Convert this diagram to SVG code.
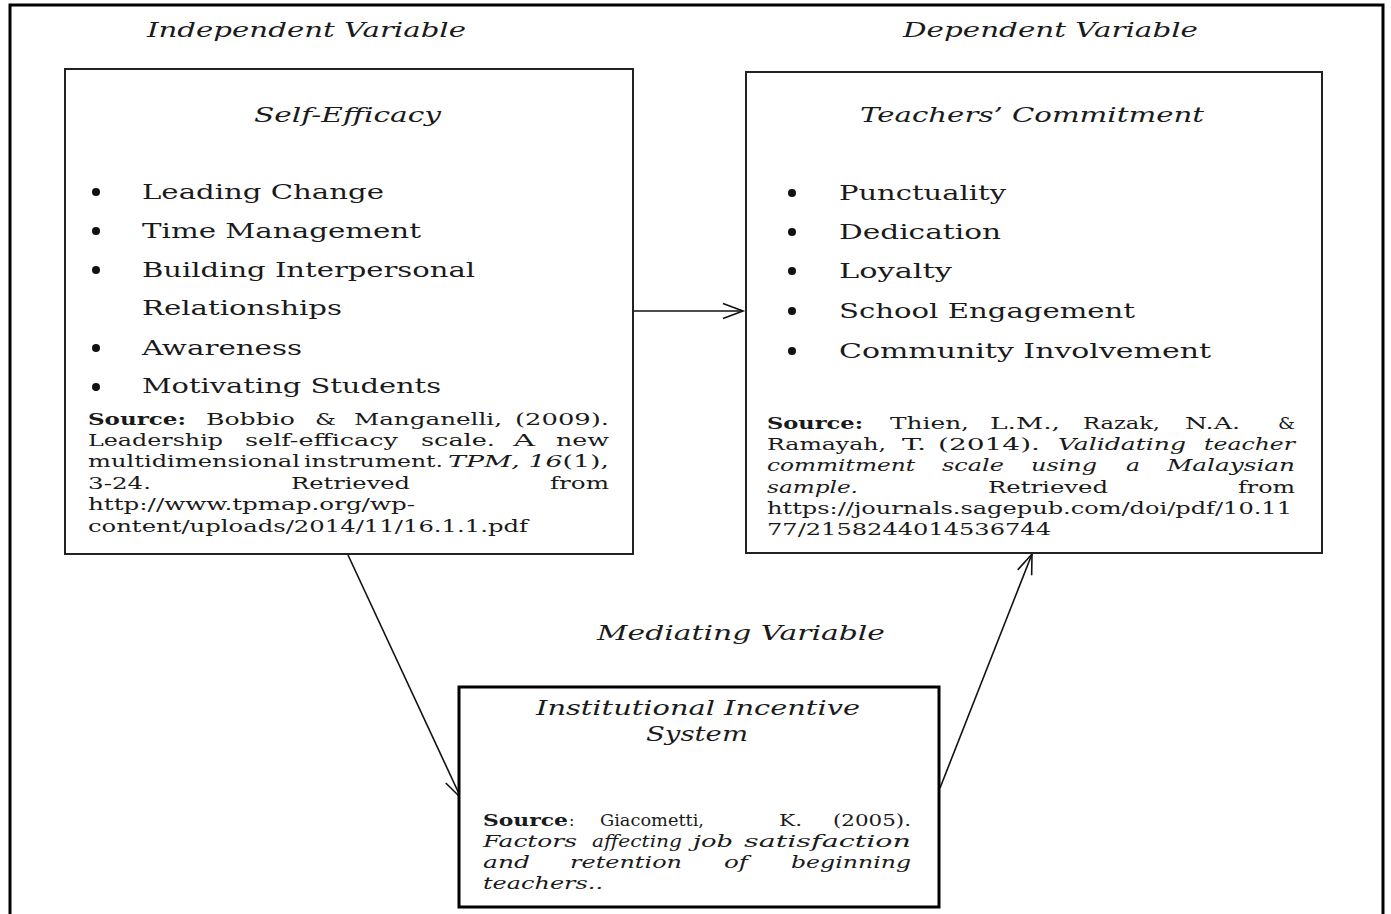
<svg xmlns="http://www.w3.org/2000/svg" width="1391" height="914" viewBox="0 0 1391 914">
<style>
text{font-family:"DejaVu Serif","Liberation Serif",serif;fill:#1a1a1a}
.hd{font-size:20px;font-style:italic}
.ti{font-size:20px;font-style:italic}
.bl{font-size:20px}
.sr{font-size:16px}
.b{font-weight:bold}
.i{font-style:italic}
.box{fill:#fff;stroke:#222;stroke-width:2}
.box3{fill:#fff;stroke:#000;stroke-width:3}
.conn{stroke:#111;stroke-width:1.6;fill:none}
</style>
<defs>
<marker id="ah" markerUnits="userSpaceOnUse" markerWidth="24" markerHeight="18" refX="21" refY="9" orient="auto">
<path d="M1,1.5 L21,9 L1,16.5" fill="none" stroke="#111" stroke-width="1.6"/>
</marker>
</defs>
<rect width="1391" height="914" fill="#fff"/>
<path d="M10,914 V5 H1383 V914" fill="none" stroke="#000" stroke-width="3"/>

<g id="labels">
<text class="hd" x="147" y="37" textLength="319" lengthAdjust="spacingAndGlyphs">Independent Variable</text>
<text class="hd" x="903" y="37" textLength="295" lengthAdjust="spacingAndGlyphs">Dependent Variable</text>
<text class="hd" x="597" y="640" textLength="288" lengthAdjust="spacingAndGlyphs">Mediating Variable</text>
</g>

<g id="connectors">
<line class="conn" x1="634" y1="311" x2="743" y2="311" marker-end="url(#ah)"/>
<line class="conn" x1="348" y1="555" x2="461" y2="798" marker-end="url(#ah)"/>
<line class="conn" x1="940" y1="788" x2="1032" y2="554" marker-end="url(#ah)"/>
</g>

<g id="node-self-efficacy">
<rect class="box" x="65" y="69" width="568" height="485"/>
<text class="ti" x="254" y="122" textLength="187" lengthAdjust="spacingAndGlyphs">Self-Efficacy</text>
<circle cx="96" cy="192" r="4" fill="#111"/>
<circle cx="96" cy="231" r="4" fill="#111"/>
<circle cx="96" cy="270" r="4" fill="#111"/>
<circle cx="96" cy="348" r="4" fill="#111"/>
<circle cx="96" cy="387" r="4" fill="#111"/>
<text class="bl" x="142" y="199" textLength="242" lengthAdjust="spacingAndGlyphs">Leading Change</text>
<text class="bl" x="142" y="238" textLength="279" lengthAdjust="spacingAndGlyphs">Time Management</text>
<text class="bl" x="142" y="277" textLength="333" lengthAdjust="spacingAndGlyphs">Building Interpersonal</text>
<text class="bl" x="142" y="315" textLength="200" lengthAdjust="spacingAndGlyphs">Relationships</text>
<text class="bl" x="142" y="355" textLength="160" lengthAdjust="spacingAndGlyphs">Awareness</text>
<text class="bl" x="142" y="393" textLength="299" lengthAdjust="spacingAndGlyphs">Motivating Students</text>
<text class="sr" y="425"><tspan class="b" x="88" textLength="98" lengthAdjust="spacingAndGlyphs">Source:</tspan><tspan x="206" textLength="89" lengthAdjust="spacingAndGlyphs">Bobbio</tspan><tspan x="315" textLength="21" lengthAdjust="spacingAndGlyphs">&amp;</tspan><tspan x="354" textLength="148" lengthAdjust="spacingAndGlyphs">Manganelli,</tspan><tspan x="515" textLength="94" lengthAdjust="spacingAndGlyphs">(2009).</tspan></text>
<text class="sr" y="446"><tspan x="88" textLength="135" lengthAdjust="spacingAndGlyphs">Leadership</tspan><tspan x="245" textLength="153" lengthAdjust="spacingAndGlyphs">self-efficacy</tspan><tspan x="421" textLength="74" lengthAdjust="spacingAndGlyphs">scale.</tspan><tspan x="513" textLength="22" lengthAdjust="spacingAndGlyphs">A</tspan><tspan x="556" textLength="53" lengthAdjust="spacingAndGlyphs">new</tspan></text>
<text class="sr" y="467"><tspan x="88" textLength="212" lengthAdjust="spacingAndGlyphs">multidimensional</tspan><tspan x="304" textLength="139" lengthAdjust="spacingAndGlyphs">instrument.</tspan></text>
<text class="sr" x="448" y="467" textLength="161" lengthAdjust="spacingAndGlyphs"><tspan class="i">TPM, 16</tspan>(1),</text>
<text class="sr" y="489"><tspan x="88" textLength="63" lengthAdjust="spacingAndGlyphs">3-24.</tspan><tspan x="291" textLength="119" lengthAdjust="spacingAndGlyphs">Retrieved</tspan><tspan x="550" textLength="59" lengthAdjust="spacingAndGlyphs">from</tspan></text>
<text class="sr" x="88" y="510" textLength="327" lengthAdjust="spacingAndGlyphs">http://www.tpmap.org/wp-</text>
<text class="sr" x="88" y="532" textLength="440" lengthAdjust="spacingAndGlyphs">content/uploads/2014/11/16.1.1.pdf</text>
</g>

<g id="node-teachers-commitment">
<rect class="box" x="746" y="72" width="576" height="481"/>
<text class="ti" x="860" y="122" textLength="344" lengthAdjust="spacingAndGlyphs">Teachers’ Commitment</text>
<circle cx="792" cy="193" r="4" fill="#111"/>
<circle cx="792" cy="232" r="4" fill="#111"/>
<circle cx="792" cy="271" r="4" fill="#111"/>
<circle cx="792" cy="311" r="4" fill="#111"/>
<circle cx="792" cy="351" r="4" fill="#111"/>
<text class="bl" x="839" y="200" textLength="167" lengthAdjust="spacingAndGlyphs">Punctuality</text>
<text class="bl" x="839" y="239" textLength="162" lengthAdjust="spacingAndGlyphs">Dedication</text>
<text class="bl" x="839" y="278" textLength="113" lengthAdjust="spacingAndGlyphs">Loyalty</text>
<text class="bl" x="839" y="318" textLength="296" lengthAdjust="spacingAndGlyphs">School Engagement</text>
<text class="bl" x="839" y="358" textLength="372" lengthAdjust="spacingAndGlyphs">Community Involvement</text>
<text class="sr" y="429"><tspan class="b" x="767" textLength="96" lengthAdjust="spacingAndGlyphs">Source:</tspan><tspan x="890" textLength="79" lengthAdjust="spacingAndGlyphs">Thien,</tspan><tspan x="990" textLength="70" lengthAdjust="spacingAndGlyphs">L.M.,</tspan><tspan x="1083" textLength="77" lengthAdjust="spacingAndGlyphs">Razak,</tspan><tspan x="1185" textLength="55" lengthAdjust="spacingAndGlyphs">N.A.</tspan><tspan x="1278" textLength="17" lengthAdjust="spacingAndGlyphs">&amp;</tspan></text>
<text class="sr" y="450"><tspan x="767" textLength="119" lengthAdjust="spacingAndGlyphs">Ramayah,</tspan><tspan x="902" textLength="24" lengthAdjust="spacingAndGlyphs">T.</tspan><tspan x="938" textLength="102" lengthAdjust="spacingAndGlyphs">(2014).</tspan><tspan class="i" x="1058" textLength="128" lengthAdjust="spacingAndGlyphs">Validating</tspan><tspan class="i" x="1204" textLength="91" lengthAdjust="spacingAndGlyphs">teacher</tspan></text>
<text class="sr i" y="471"><tspan x="767" textLength="148" lengthAdjust="spacingAndGlyphs">commitment</tspan><tspan x="942" textLength="62" lengthAdjust="spacingAndGlyphs">scale</tspan><tspan x="1031" textLength="66" lengthAdjust="spacingAndGlyphs">using</tspan><tspan x="1126" textLength="14" lengthAdjust="spacingAndGlyphs">a</tspan><tspan x="1167" textLength="128" lengthAdjust="spacingAndGlyphs">Malaysian</tspan></text>
<text class="sr" y="493"><tspan class="i" x="767" textLength="91" lengthAdjust="spacingAndGlyphs">sample.</tspan><tspan x="988" textLength="120" lengthAdjust="spacingAndGlyphs">Retrieved</tspan><tspan x="1238" textLength="57" lengthAdjust="spacingAndGlyphs">from</tspan></text>
<text class="sr" x="767" y="514" textLength="525" lengthAdjust="spacingAndGlyphs">https://journals.sagepub.com/doi/pdf/10.11</text>
<text class="sr" x="767" y="535" textLength="284" lengthAdjust="spacingAndGlyphs">77/2158244014536744</text>
</g>

<g id="node-institutional-incentive">
<rect class="box3" x="459" y="687" width="480" height="220"/>
<text class="ti" x="536" y="715" textLength="324" lengthAdjust="spacingAndGlyphs">Institutional Incentive</text>
<text class="ti" x="646" y="741" textLength="102" lengthAdjust="spacingAndGlyphs">System</text>
<text class="sr b" x="483" y="826" textLength="85" lengthAdjust="spacingAndGlyphs">Source</text>
<text class="sr" x="569" y="826">:</text>
<text class="sr" x="600" y="826" textLength="104" lengthAdjust="spacingAndGlyphs">Giacometti,</text>
<text class="sr" x="779" y="826" textLength="23" lengthAdjust="spacingAndGlyphs">K.</text>
<text class="sr" x="833" y="826" textLength="78" lengthAdjust="spacingAndGlyphs">(2005).</text>
<text class="sr i" y="847"><tspan x="483" textLength="94" lengthAdjust="spacingAndGlyphs">Factors</tspan><tspan x="592" textLength="90" lengthAdjust="spacingAndGlyphs">affecting</tspan><tspan x="693" textLength="40" lengthAdjust="spacingAndGlyphs">job</tspan><tspan x="744" textLength="167" lengthAdjust="spacingAndGlyphs">satisfaction</tspan></text>
<text class="sr i" y="868"><tspan x="483" textLength="47" lengthAdjust="spacingAndGlyphs">and</tspan><tspan x="570" textLength="112" lengthAdjust="spacingAndGlyphs">retention</tspan><tspan x="724" textLength="24" lengthAdjust="spacingAndGlyphs">of</tspan><tspan x="791" textLength="120" lengthAdjust="spacingAndGlyphs">beginning</tspan></text>
<text class="sr i" x="483" y="889" textLength="120" lengthAdjust="spacingAndGlyphs">teachers..</text>
</g>
</svg>
